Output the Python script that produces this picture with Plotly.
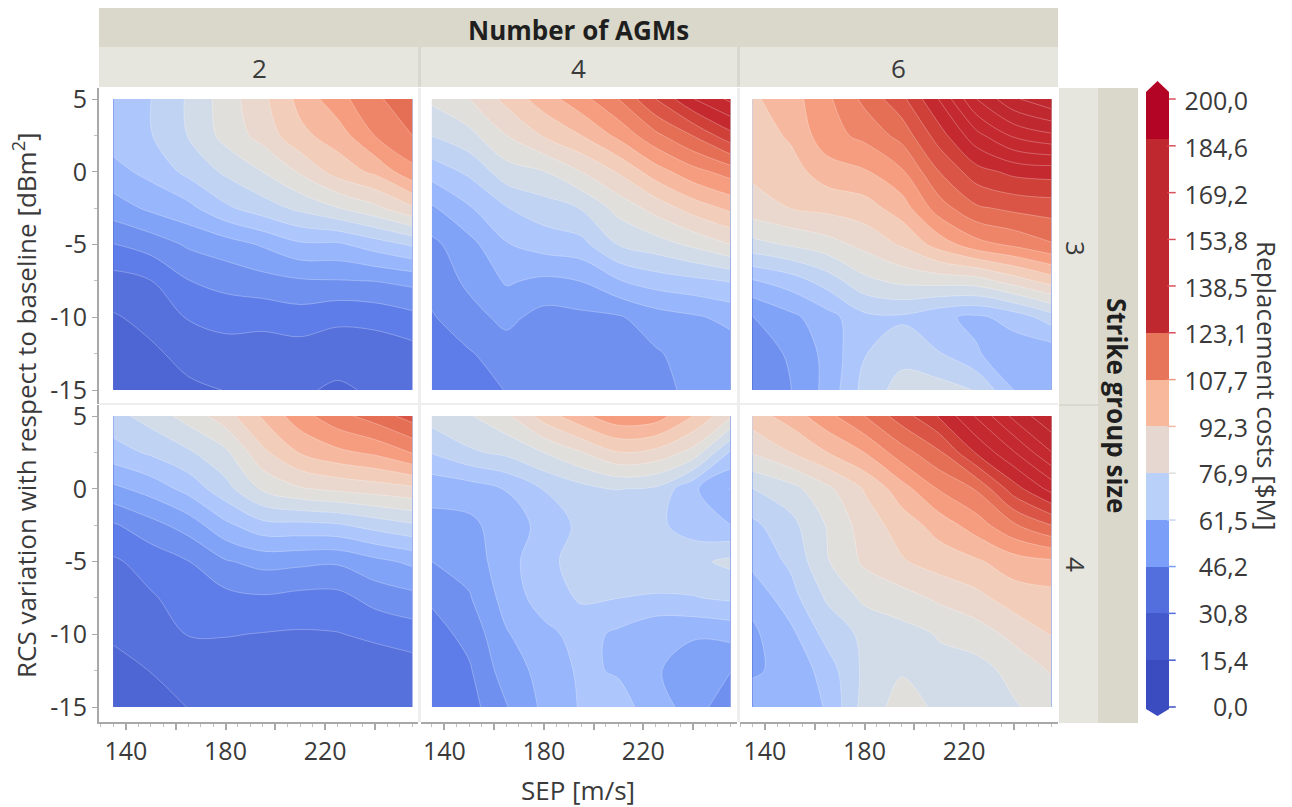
import plotly.graph_objects as go

W, H = 1292, 807
FONT = "Open Sans"
TXT = "#3a3a3a"

sep = [135, 150, 165, 180, 195, 210, 225, 240, 255]
rcs = [5, 2.5, 0, -2.5, -5, -7.5, -10, -12.5, -15]

cost_s3_a2 = [
    [66.0, 66.6, 72.4, 79.4, 86.0, 93.9, 100.7, 106.4, 112.0],
    [64.0, 66.4, 72.0, 78.7, 84.0, 91.0, 94.7, 102.7, 107.7],
    [59.8, 63.1, 68.0, 72.7, 77.0, 82.7, 89.4, 93.4, 101.0],
    [54.0, 57.4, 60.0, 65.7, 69.4, 73.0, 76.7, 80.7, 86.4],
    [46.0, 48.4, 52.0, 54.0, 57.0, 60.7, 60.7, 64.0, 67.4],
    [39.0, 40.9, 46.0, 48.0, 49.4, 50.7, 51.0, 51.4, 52.7],
    [35.4, 37.4, 41.4, 42.7, 42.7, 43.7, 42.0, 42.7, 44.7],
    [34.0, 35.0, 37.4, 39.0, 38.4, 38.7, 38.4, 38.0, 39.0],
    [32.7, 33.4, 35.0, 36.0, 36.4, 36.7, 35.0, 36.7, 36.7],
]
cost_s3_a4 = [
    [78.0, 82.0, 88.7, 95.0, 100.7, 107.7, 118.0, 128.0, 134.4],
    [72.0, 75.4, 82.0, 87.7, 92.3, 98.7, 106.4, 113.0, 121.4],
    [63.7, 67.7, 74.7, 76.7, 82.0, 87.7, 95.0, 100.7, 104.7],
    [55.7, 61.0, 66.4, 69.4, 72.0, 78.7, 84.0, 89.4, 93.4],
    [50.0, 54.7, 61.2, 63.7, 65.0, 72.0, 74.6, 78.0, 82.0],
    [48.0, 52.4, 57.0, 55.4, 56.5, 61.2, 64.0, 65.4, 67.0],
    [45.7, 49.4, 52.7, 49.4, 50.0, 50.7, 54.0, 55.7, 57.7],
    [43.4, 45.7, 48.7, 48.0, 48.0, 48.0, 50.7, 53.4, 54.0],
    [41.4, 43.4, 46.4, 47.0, 47.0, 47.0, 49.4, 52.7, 53.0],
]
cost_s3_a6 = [
    [91.5, 95, 101.5, 109, 116.5, 128.5, 143.6, 153, 158],
    [89.5, 93, 100.5, 104, 109.5, 120.6, 131.7, 139.4, 142.6],
    [88.2, 90, 95, 96.8, 101.8, 112.8, 121, 124.5, 125.3],
    [84.9, 87.2, 88.5, 90, 94.8, 105.2, 112, 114, 115],
    [75.2, 77.5, 80, 83.5, 87.8, 94.5, 100.6, 103.6, 107.2],
    [61.1, 64, 69, 75.6, 78.2, 79, 79.7, 84.5, 89.5],
    [50.9, 55, 59.5, 65.3, 65.8, 62.5, 60.5, 63.5, 69.3],
    [49, 51.8, 58, 66.4, 70, 67, 62, 58.5, 58],
    [47.5, 51, 58, 68.5, 74, 74, 71.5, 61.5, 57],
]
cost_s4_a2 = [
    [70, 74, 79, 85, 93, 100.5, 106, 110, 115],
    [64.5, 67.5, 71, 75.8, 86, 92.7, 96.2, 98.5, 103],
    [55.2, 58.5, 63.3, 70, 77.8, 81.5, 83.2, 84.5, 86],
    [45.5, 49.5, 53.5, 60.3, 65, 65.3, 66, 68.7, 71],
    [40.3, 43, 46, 50.8, 53, 52.5, 52, 55, 57.5],
    [38.5, 40.5, 43, 44.5, 45.5, 44.5, 44.5, 48, 49.7],
    [36.5, 38.5, 41.2, 41.3, 40.8, 40.5, 40.8, 42, 43.6],
    [34.5, 36, 38.5, 38, 38, 37.5, 37.5, 38, 38.5],
    [33, 34, 36, 37, 37, 36.5, 36.5, 36.5, 37],
]
cost_s4_a4 = [
    [74, 76.5, 81, 89.5, 96, 101, 100, 92.3, 83],
    [67, 71, 73, 77, 81.8, 87, 85.7, 80.3, 66],
    [58, 59, 61.8, 66.9, 70, 72, 71, 62.5, 56.2],
    [55, 55.2, 59, 63, 68, 68.5, 68, 64, 61.6],
    [51.3, 53.4, 59.5, 65, 69, 71.7, 70, 70.5, 73],
    [47, 50.8, 58.5, 64, 67.3, 66.7, 66.2, 66.4, 67.5],
    [44, 47.8, 56, 60, 63.5, 60.5, 57, 57, 57.9],
    [43, 45.5, 54, 58, 62.5, 61, 57, 53.5, 51.5],
    [42, 44, 51, 57.5, 62, 63.5, 59, 54, 47.5],
]
cost_s4_a6 = [
    [90, 94.5, 101, 107.7, 115.5, 123.5, 134, 145, 153],
    [82.5, 87.1, 92.3, 97.5, 105.5, 112, 123.7, 133, 143.4],
    [71.7, 75, 80.8, 87.6, 95.3, 103, 108.2, 120.8, 130],
    [65.5, 70, 77.3, 84.5, 89.5, 94.5, 100, 107, 112.8],
    [63, 67.5, 76.5, 83, 86.7, 89.5, 91.6, 95, 96.5],
    [57.8, 64.5, 72.5, 78, 80, 83, 85.7, 89.7, 90.5],
    [55.5, 60, 68.5, 73, 75, 77.3, 79.5, 83.5, 87.4],
    [56, 57.3, 64, 73, 76.5, 75.5, 75, 78.5, 82.5],
    [58, 58, 62, 74, 79, 76, 74, 76.4, 79],
]

band_colors = (
    ["#e6ebf8"] + ["#3b4cc0"] * 2 + ["#445acc"] * 3 +
    ["#4e66d4", "#5670dc", "#5f7de8", "#6f90ee", "#81a3f7", "#98b6fc",
     "#adc6fb", "#c0d3f3", "#d2dbe8", "#e1dfdc", "#ead7cd", "#f2cdb9",
     "#f6b9a0", "#f59d7e", "#ee8468", "#e56f55", "#da5545", "#cf4039"] +
    ["#c4292f"] * 4 + ["#c0282f"] * 8 + ["#b40426"] * 3
)
n_bands = 39

legend_edges = [0, 15.4, 30.8, 46.2, 61.5, 76.9, 92.3, 107.7, 123.1, 187, 200]
legend_colors = ["#3b4cc0", "#445acc", "#536edd", "#7b9ff9", "#b9d0f9",
                 "#e6d7d0", "#f7b89c", "#e7755a", "#c0282f", "#b40426"]
legend_ticks = [200.0, 184.6, 169.2, 153.8, 138.5, 123.1, 107.7, 92.3, 76.9, 61.5, 46.2, 30.8, 15.4, 0.0]
legend_labels = ["200,0", "184,6", "169,2", "153,8", "138,5", "123,1", "107,7",
                 "92,3", "76,9", "61,5", "46,2", "30,8", "15,4", "0,0"]
legend_tick_colors = ["#d9505a"] * 6 + ["#ee9a85", "#f0b8a5", "#dddddd", "#c8d8f5", "#7b9ff9", "#536edd", "#445acc", "#3b4cc0"]

agm_labels = ["2", "4", "6"]
size_labels = ["3", "4"]


def xd(a, b):
    return [a / W, b / W]


def yd(top, bot):
    return [1 - bot / H, 1 - top / H]


def px(x):
    return x / W


def py(y):
    return 1 - y / H


scale = []
for i, c in enumerate(band_colors):
    scale += [[i / n_bands, c], [(i + 1) / n_bands, c]]

col_dom = [(99, 418, [129.2, 257.3]), (421, 737, [130.6, 257.7]), (740, 1058, [130, 257.7])]
row_dom = [(88, 404), (405, 722)]
panels = [[cost_s3_a2, cost_s3_a4, cost_s3_a6], [cost_s4_a2, cost_s4_a4, cost_s4_a6]]

fig = go.Figure()
layout = {}
k = 0
AXC = "#a8a8a8"
for r, (top, bot) in enumerate(row_dom):
    for c, (lft, rgt, xr) in enumerate(col_dom):
        k += 1
        sfx = "" if k == 1 else str(k)
        fig.add_trace(go.Contour(
            x=sep, y=rcs, z=panels[r][c], xaxis="x" + sfx, yaxis="y" + sfx,
            autocontour=False, zauto=False, zmin=0, zmax=200,
            contours=dict(start=0, end=200, size=200 / 39, coloring="fill", showlines=True),
            line=dict(color="rgba(255,255,255,0.35)", width=0.8, smoothing=1.0),
            colorscale=scale, showscale=False, hoverinfo="skip",
        ))
        xa = dict(domain=xd(lft, rgt), range=xr, anchor="y" + sfx, showgrid=False, zeroline=False, automargin=False)
        if r == 1:
            xa.update(showline=True, linecolor=AXC, linewidth=2, ticks="outside", ticklen=6, tickcolor=AXC,
                      tickwidth=2, tickvals=[140, 160, 180, 200, 220, 240],
                      ticktext=["140", "", "180", "", "220", ""],
                      tickfont=dict(family=FONT, size=25, color=TXT),
                      minor=dict(dtick=5, tick0=0, ticks="outside", ticklen=3, tickcolor="#c0c0c0", tickwidth=1))
        else:
            xa.update(visible=False)
        ya = dict(domain=yd(top, bot), range=[-15 - (bot - (top + 302)) / 14.55, 5 + 11 / 14.55],
                  anchor="x" + sfx, showgrid=False, zeroline=False, automargin=False)
        if c == 0:
            ya.update(showline=True, linecolor=AXC, linewidth=2, ticks="outside", ticklen=5, tickcolor=AXC,
                      tickwidth=1, tickvals=[5, 0, -5, -10, -15], ticktext=["5", "0", "-5", "-10", "-15"],
                      tickfont=dict(family=FONT, size=25, color=TXT),
                      minor=dict(dtick=2.5, tick0=0, ticks="outside", ticklen=3, tickcolor="#c0c0c0", tickwidth=1))
        else:
            ya.update(visible=False)
        layout["xaxis" + sfx] = xa
        layout["yaxis" + sfx] = ya

# colour legend
fig.add_trace(go.Heatmap(
    x=[0, 1], y=legend_edges, z=[[i] for i in range(len(legend_colors))],
    xaxis="x7", yaxis="y7", showscale=False, hoverinfo="skip", zmin=-0.5, zmax=len(legend_colors) - 0.5,
    colorscale=[v for i, c in enumerate(legend_colors)
                for v in ([i / len(legend_colors), c], [(i + 1) / len(legend_colors), c])],
))
fig.add_trace(go.Scatter(
    x=[1.11] * len(legend_ticks), y=legend_ticks, mode="markers", xaxis="x7", yaxis="y7", cliponaxis=False,
    marker=dict(symbol="line-ew", size=6, line=dict(color=legend_tick_colors, width=1.5)), hoverinfo="skip",
))
fig.add_trace(go.Scatter(
    x=[0.86] * len(legend_ticks), y=legend_ticks, mode="text", text=legend_labels, textposition="middle left",
    textfont=dict(family=FONT, size=25, color=TXT), xaxis="x8", yaxis="y8", cliponaxis=False, hoverinfo="skip",
))
layout["xaxis7"] = dict(domain=xd(1146, 1175), range=[0, 29 / 23], visible=False, anchor="y7", automargin=False)
layout["yaxis7"] = dict(domain=yd(99, 707), range=[0, 200], visible=False, anchor="x7", automargin=False)
layout["xaxis8"] = dict(domain=xd(1175, 1260), range=[0, 1], visible=False, anchor="y8", automargin=False)
layout["yaxis8"] = dict(domain=yd(104, 710), range=[0, 200], visible=False, anchor="x8", automargin=False)

shapes = []


def rect(x0, y0, x1, y1, color):
    shapes.append(dict(type="rect", xref="paper", yref="paper", x0=px(x0), x1=px(x1), y0=py(y0), y1=py(y1),
                       fillcolor=color, line=dict(width=0), layer="below"))


rect(99, 8, 1058, 47, "#dad8ca")
rect(99, 47, 1058, 87, "#e6e6de")
rect(1059, 88, 1098, 723, "#e6e6de")
rect(1098, 88, 1138, 723, "#dad8ca")
for x in (418, 737):
    rect(x, 47, x + 3, 87, "#d8d8ce")
    rect(x, 88, x + 3, 722, "#eeeeee")
rect(99, 403, 1058, 405, "#eeeeee")
rect(1059, 404, 1098, 406, "#d8d8ce")


def poly(pts, color):
    d = "M " + " L ".join(f"{px(a):.5f},{py(b):.5f}" for a, b in pts) + " Z"
    shapes.append(dict(type="path", xref="paper", yref="paper", path=d, fillcolor=color, line=dict(width=0)))


poly([(1146, 92), (1157.5, 81), (1169, 92), (1169, 100), (1146, 100)], "#b40426")
poly([(1146, 706), (1169, 706), (1169, 709), (1157.5, 716), (1146, 709)], "#3b4cc0")


def note(x, y, text, size=26, bold=False, angle=0):
    t = f"<b>{text}</b>" if bold else text
    return dict(xref="paper", yref="paper", x=px(x), y=py(y), text=t, showarrow=False, textangle=angle,
                font=dict(family=FONT, size=size, color="#1f1f1f" if bold else TXT),
                xanchor="center", yanchor="middle")


ann = [
    note(578, 30, "Number of AGMs", 26, True),
    note(259, 68, agm_labels[0]), note(578, 68, agm_labels[1]), note(898, 68, agm_labels[2]),
    note(1076, 248, size_labels[0], angle=90), note(1076, 564, size_labels[1], angle=90),
    note(1117, 405, "Strike group size", 26, True, angle=90),
    note(1267, 385, "Replacement costs [$M]", angle=90),
    note(25, 405, "RCS variation with respect to baseline [dBm<sup>2</sup>]", angle=-90),
    note(578, 790, "SEP [m/s]"),
]

fig.update_layout(width=W, height=H, margin=dict(l=0, r=0, t=0, b=0), paper_bgcolor="white", plot_bgcolor="white",
                  showlegend=False, shapes=shapes, annotations=ann, **layout)
fig.write_html("out.html", config=dict(displayModeBar=False),
               post_script="document.body.style.margin='0';document.body.style.overflow='hidden';")
